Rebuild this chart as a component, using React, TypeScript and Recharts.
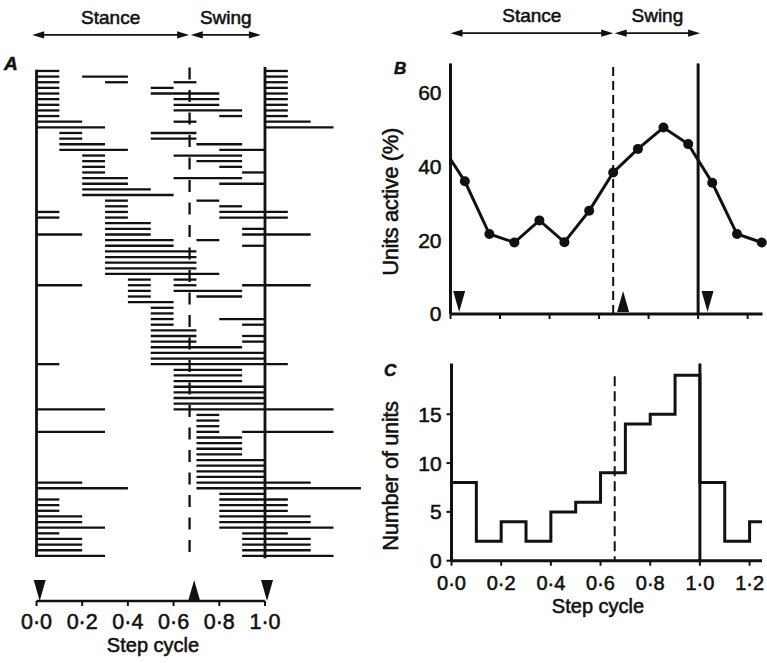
import React from "react";
import {
  ComposedChart,
  ScatterChart,
  Scatter,
  Line,
  XAxis,
  YAxis,
  ReferenceLine,
  ReferenceDot,
} from "recharts";

const INK = "#111";
const FONT = "'Liberation Sans', Arial, Helvetica, sans-serif";
const TEXT_STROKE = 0.55;

// ---- panel A: firing spans of each unit, in step-cycle units (one row per unit) ----
const unitSpans: [number, number][][] = [
  [[0, 0.1], [1, 1.1]],
  [[0, 0.1], [0.2, 0.4], [1, 1.1]],
  [[0, 0.1], [0.3, 0.4], [0.6, 0.7], [1, 1.1]],
  [[0, 0.1], [0.5, 0.6], [1, 1.1]],
  [[0, 0.1], [0.5, 0.8], [1, 1.1]],
  [[0, 0.1], [0.6, 0.8], [1, 1.1]],
  [[0, 0.1], [0.6, 0.8], [1, 1.1]],
  [[0, 0.1], [0.6, 0.9], [1, 1.1]],
  [[0, 0.1], [0.8, 0.9], [1, 1.1]],
  [[0, 0.2], [0.6, 0.7], [1, 1.2]],
  [[0, 0.3], [1, 1.3]],
  [[0.1, 0.2], [0.5, 0.7]],
  [[0.1, 0.2], [0.5, 0.7]],
  [[0.1, 0.3], [0.7, 0.9]],
  [[0.1, 0.4], [0.8, 1]],
  [[0.2, 0.3], [0.6, 0.9]],
  [[0.2, 0.3], [0.7, 0.9]],
  [[0.2, 0.3], [0.8, 0.9]],
  [[0.2, 0.3], [0.9, 1]],
  [[0.2, 0.4], [0.6, 0.9]],
  [[0.2, 0.4], [0.8, 1]],
  [[0.2, 0.5]],
  [[0.2, 0.6]],
  [[0.3, 0.4], [0.7, 0.8]],
  [[0.3, 0.4], [0.8, 0.9]],
  [[0, 0.1], [0.3, 0.4], [0.8, 1.1]],
  [[0, 0.1], [0.3, 0.4], [0.8, 1.1]],
  [[0.3, 0.5]],
  [[0.3, 0.5], [0.9, 1]],
  [[0, 0.2], [0.3, 0.5], [0.9, 1.2]],
  [[0.3, 0.6], [0.7, 0.8]],
  [[0.3, 0.6], [0.9, 1]],
  [[0.3, 0.7]],
  [[0.3, 0.7]],
  [[0.3, 0.7]],
  [[0.3, 0.7]],
  [[0.3, 0.8]],
  [[0.4, 0.5], [0.6, 0.7]],
  [[0, 0.2], [0.4, 0.5], [0.6, 0.7], [0.9, 1.2]],
  [[0.4, 0.5], [0.6, 0.9]],
  [[0.4, 0.5], [0.7, 0.9]],
  [[0.4, 0.6]],
  [[0.5, 0.6]],
  [[0.5, 0.6]],
  [[0.5, 0.6], [0.8, 1]],
  [[0.5, 0.6], [0.9, 1]],
  [[0.5, 0.7]],
  [[0.5, 0.7], [0.9, 1]],
  [[0.5, 0.7], [0.9, 1]],
  [[0.5, 0.9]],
  [[0.5, 1]],
  [[0.5, 1]],
  [[0, 0.1], [0.5, 1.1]],
  [[0.6, 0.9]],
  [[0.6, 0.9]],
  [[0.6, 0.9]],
  [[0.6, 1]],
  [[0.6, 1]],
  [[0.6, 1]],
  [[0.6, 1]],
  [[0, 0.3], [0.6, 1.3]],
  [[0.7, 0.8]],
  [[0.7, 0.8]],
  [[0.7, 0.8]],
  [[0, 0.3], [0.7, 0.8], [0.9, 1.3]],
  [[0.7, 0.9]],
  [[0.7, 0.9]],
  [[0.7, 0.9]],
  [[0.7, 0.9]],
  [[0.7, 1]],
  [[0.7, 1]],
  [[0.7, 1]],
  [[0.7, 1]],
  [[0, 0.2], [0.7, 1.2]],
  [[0, 0.4], [0.7, 1.42]],
  [[0.8, 1]],
  [[0, 0.1], [0.8, 1.1]],
  [[0, 0.1], [0.8, 1.1]],
  [[0, 0.1], [0.8, 1.1]],
  [[0, 0.2], [0.8, 1.2]],
  [[0, 0.2], [0.8, 1.2]],
  [[0, 0.3], [0.8, 1.3]],
  [[0, 0.1], [0.9, 1.1]],
  [[0, 0.2], [0.9, 1.2]],
  [[0, 0.2], [0.9, 1.2]],
  [[0, 0.2], [0.9, 1.2]],
  [[0, 0.3], [0.9, 1.3]],
];

const phaseTicks = [0, 0.2, 0.4, 0.6, 0.8, 1.0];
const phaseTicksWide = [0, 0.2, 0.4, 0.6, 0.8, 1.0, 1.2];

// foot-off (end of stance) and the event markers under each panel
const footOffA = 0.67;
const footOffBC = 0.657;
const markersA = [
  { x: 0.014, dir: "down" },
  { x: 0.69, dir: "up" },
  { x: 1.009, dir: "down" },
];
const markersB = [
  { x: 0.035, dir: "down" },
  { x: 0.697, dir: "up" },
  { x: 1.038, dir: "down" },
];

// ---- panel B: percentage of units active ----
const activePhase = [0, 0.058, 0.157, 0.258, 0.359, 0.46, 0.56, 0.657, 0.757, 0.86, 0.96, 1.057, 1.157, 1.257];
const activePct = [42, 36, 21.7, 19.4, 25.4, 19.5, 28, 38.4, 44.8, 50.6, 46.1, 35.6, 21.7, 19.4];
const activeTicks = [0, 20, 40, 60];

// ---- panel C: number of units per 0.1 bin ----
const binStart = [0, 0.1, 0.2, 0.3, 0.4, 0.5, 0.6, 0.7, 0.8, 0.9, 1.0, 1.1, 1.2, 1.25];
const unitCount = [8, 2, 4, 2, 5, 6, 9, 14, 15, 19, 8, 2, 4, 4];
const countTicks = [0, 5, 10, 15];

const fmtPhase = (v: number) => v.toFixed(1).replace(".", "\u00b7");

const tickStyle = (size: number) => ({
  fontSize: size,
  fill: INK,
  fontFamily: FONT,
  stroke: INK,
  strokeWidth: TEXT_STROKE,
});

function DoubleArrow(props: any) {
  const { x1, y1, x2, text } = props;
  const a = Math.min(x1, x2);
  const b = Math.max(x1, x2);
  const head = 12;
  const half = 3.6;
  return (
    <g>
      <line x1={a + head - 2} y1={y1} x2={b - head + 2} y2={y1} stroke={INK} strokeWidth={1.8} />
      <polygon points={`${a},${y1} ${a + head},${y1 - half} ${a + head},${y1 + half}`} fill={INK} />
      <polygon points={`${b},${y1} ${b - head},${y1 - half} ${b - head},${y1 + half}`} fill={INK} />
      <text
        x={(a + b) / 2}
        y={y1 - 11}
        textAnchor="middle"
        fontFamily={FONT}
        fontSize={19}
        fill={INK}
        stroke={INK}
        strokeWidth={TEXT_STROKE}
      >
        {text}
      </text>
    </g>
  );
}

function Marker(props: any) {
  const { cx, cy, dir } = props;
  const w = 6;
  const h = 21;
  const pts =
    dir === "up"
      ? `${cx - w},${cy} ${cx + w},${cy} ${cx},${cy - h}`
      : `${cx - w},${cy - h} ${cx + w},${cy - h} ${cx},${cy}`;
  return <polygon points={pts} fill={INK} />;
}

function RasterPanel() {
  const axisRow = 95;
  const arrowRow = -5.4;
  return (
    <ScatterChart width={380} height={663} margin={{ top: 3.3, right: 12.2, bottom: 22, left: 36.5 }}>
      <XAxis
        type="number"
        dataKey="x"
        domain={[0, 1.45]}
        ticks={phaseTicks}
        tickFormatter={fmtPhase}
        axisLine={false}
        tickLine={{ stroke: INK, strokeWidth: 2 }}
        tickSize={5}
        tickMargin={8}
        height={40}
        tick={tickStyle(21.5)}
      />
      <YAxis type="number" dataKey="y" domain={[-11, axisRow]} reversed hide />
      {unitSpans.map((spans, i) =>
        spans.map(([s, e], j) => (
          <ReferenceLine
            key={`u${i}-${j}`}
            segment={[
              { x: s, y: i + 1 },
              { x: e, y: i + 1 },
            ]}
            stroke={INK}
            strokeWidth={2.3}
            ifOverflow="visible"
          />
        ))
      )}
      <ReferenceLine segment={[{ x: 0, y: 0.8 }, { x: 0, y: 87.2 }]} stroke={INK} strokeWidth={2.8} ifOverflow="visible" />
      <ReferenceLine segment={[{ x: 1, y: 0.3 }, { x: 1, y: 87.4 }]} stroke={INK} strokeWidth={2.8} ifOverflow="visible" />
      <ReferenceLine
        segment={[{ x: footOffA, y: 0.4 }, { x: footOffA, y: 86.8 }]}
        stroke={INK}
        strokeWidth={2.3}
        strokeDasharray="12 10.5"
        ifOverflow="visible"
      />
      <ReferenceLine segment={[{ x: 0, y: axisRow }, { x: 1, y: axisRow }]} stroke={INK} strokeWidth={2.4} ifOverflow="visible" />
      <ReferenceLine
        segment={[{ x: -0.019, y: arrowRow }, { x: 0.668, y: arrowRow }]}
        ifOverflow="visible"
        shape={(p: any) => <DoubleArrow {...p} text="Stance" />}
      />
      <ReferenceLine
        segment={[{ x: 0.675, y: arrowRow }, { x: 0.982, y: arrowRow }]}
        ifOverflow="visible"
        shape={(p: any) => <DoubleArrow {...p} text="Swing" />}
      />
      <Scatter
        data={markersA.map((m) => ({ x: m.x, y: axisRow, dir: m.dir }))}
        isAnimationActive={false}
        shape={(p: any) => <Marker cx={p.cx} cy={p.cy} dir={p.payload.dir} />}
      />
    </ScatterChart>
  );
}

function ActivePanel() {
  const data = activePhase.map((x, i) => ({ x, pct: activePct[i] }));
  const arrowY = 76.2;
  return (
    <ComposedChart width={387} height={340} data={data} margin={{ top: 63.4, right: 4.5, bottom: 6, left: 10.5 }}>
      <XAxis
        type="number"
        dataKey="x"
        domain={[0, 1.26]}
        ticks={phaseTicksWide}
        tickFormatter={() => ""}
        tickSize={5}
        axisLine={{ stroke: INK, strokeWidth: 3 }}
        tickLine={{ stroke: INK, strokeWidth: 2 }}
        height={20}
      />
      <YAxis
        type="number"
        domain={[0, 68]}
        ticks={activeTicks}
        tickLine={false}
        tickSize={0}
        tickMargin={9}
        width={60}
        axisLine={{ stroke: INK, strokeWidth: 3 }}
        tick={tickStyle(21)}
      />
      <ReferenceLine x={1} stroke={INK} strokeWidth={3} />
      <ReferenceLine x={footOffBC} stroke={INK} strokeWidth={2} strokeDasharray="9 5" />
      <ReferenceLine
        segment={[{ x: 0, y: arrowY }, { x: footOffBC, y: arrowY }]}
        ifOverflow="visible"
        shape={(p: any) => <DoubleArrow {...p} text="Stance" />}
      />
      <ReferenceLine
        segment={[{ x: footOffBC + 0.006, y: arrowY }, { x: 1.008, y: arrowY }]}
        ifOverflow="visible"
        shape={(p: any) => <DoubleArrow {...p} text="Swing" />}
      />
      {markersB.map((m, i) => (
        <ReferenceDot
          key={`m${i}`}
          x={m.x}
          y={0}
          ifOverflow="visible"
          shape={(p: any) => <Marker cx={p.cx} cy={p.cy - 2} dir={m.dir} />}
        />
      ))}
      <Line
        type="linear"
        dataKey="pct"
        stroke={INK}
        strokeWidth={3}
        isAnimationActive={false}
        dot={(p: any) =>
          p.index === 0 ? (
            <g key={`d${p.index}`} />
          ) : (
            <circle key={`d${p.index}`} cx={p.cx} cy={p.cy} r={5} fill={INK} stroke="none" />
          )
        }
      />
    </ComposedChart>
  );
}

function CountPanel() {
  const data = binStart.map((x, i) => ({ x, n: unitCount[i] }));
  return (
    <ComposedChart width={387} height={323} data={data} margin={{ top: 23.5, right: 5, bottom: 62.3, left: 11.5 }}>
      <XAxis
        type="number"
        dataKey="x"
        domain={[0, 1.25]}
        ticks={phaseTicksWide}
        tickFormatter={fmtPhase}
        tickSize={5}
        tickMargin={10}
        height={40}
        axisLine={{ stroke: INK, strokeWidth: 3 }}
        tickLine={{ stroke: INK, strokeWidth: 2 }}
        tick={tickStyle(20)}
      />
      <YAxis
        type="number"
        domain={[0, 20.2]}
        ticks={countTicks}
        tickSize={5}
        tickMargin={4.8}
        width={60}
        axisLine={{ stroke: INK, strokeWidth: 3 }}
        tickLine={{ stroke: INK, strokeWidth: 2 }}
        tick={tickStyle(21)}
      />
      <ReferenceLine x={1} stroke={INK} strokeWidth={3} />
      <ReferenceLine
        segment={[{ x: footOffBC, y: 18.9 }, { x: footOffBC, y: 0 }]}
        stroke={INK}
        strokeWidth={2}
        strokeDasharray="10 5"
      />
      <Line type="stepAfter" dataKey="n" stroke={INK} strokeWidth={3} dot={false} isAnimationActive={false} />
    </ComposedChart>
  );
}

export default function App() {
  const txt = { fontFamily: FONT, fill: INK, stroke: INK, strokeWidth: TEXT_STROKE } as const;
  return (
    <div style={{ position: "absolute", left: 0, top: 0, width: 767, height: 663, background: "#fff", overflow: "hidden" }}>
      <div style={{ position: "absolute", left: 0, top: 0 }}>
        <RasterPanel />
      </div>
      <div style={{ position: "absolute", left: 380, top: 0 }}>
        <ActivePanel />
      </div>
      <div style={{ position: "absolute", left: 380, top: 340 }}>
        <CountPanel />
      </div>
      <svg width={767} height={663} style={{ position: "absolute", left: 0, top: 0, pointerEvents: "none" }}>
        <text x={4} y={70} fontSize={19} fontStyle="italic" fontWeight="bold" {...txt}>A</text>
        <text x={394} y={74} fontSize={17} fontStyle="italic" fontWeight="bold" {...txt}>B</text>
        <text x={384} y={376} fontSize={17} fontStyle="italic" fontWeight="bold" {...txt}>C</text>
        <text x={153} y={652} fontSize={20} textAnchor="middle" {...txt}>Step cycle</text>
        <text x={598} y={613} fontSize={20} textAnchor="middle" {...txt}>Step cycle</text>
        <text transform="translate(398,202) rotate(-90)" fontSize={22} letterSpacing={-0.4} textAnchor="middle" {...txt}>
          Units active (%)
        </text>
        <text transform="translate(398,476) rotate(-90)" fontSize={22} letterSpacing={-0.4} textAnchor="middle" {...txt}>
          Number of units
        </text>
      </svg>
    </div>
  );
}
